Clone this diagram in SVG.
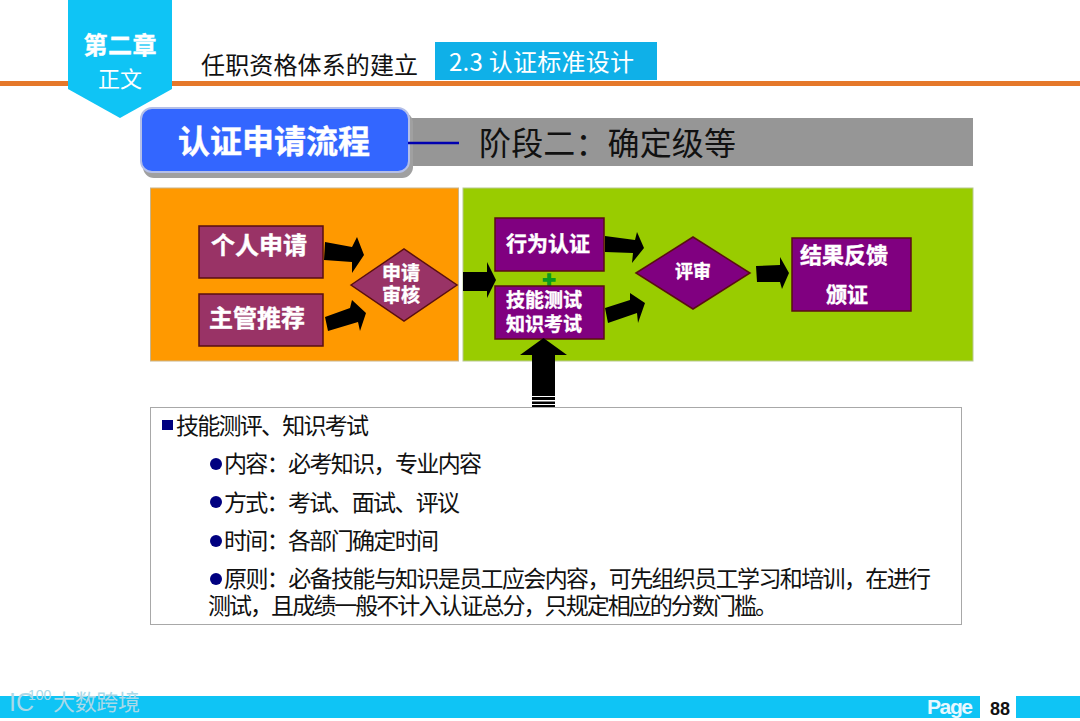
<svg xmlns="http://www.w3.org/2000/svg" width="1080" height="721" viewBox="0 0 1080 721">
<defs><style>
text{font-family:"Noto Sans CJK SC","Liberation Sans",sans-serif}
.w{fill:#fff;font-weight:700;text-anchor:middle;stroke:#fff;stroke-width:.4}
.b{fill:#111;font-size:23px}
.box{stroke:#5a0f10;stroke-width:1.5}
.m{fill:#993366}.p{fill:#800080}
.wm{fill:#a9d9e8}
</style></defs>
<rect width="1080" height="721" fill="#fff"/>
<g id="header">
<rect x="0" y="81" width="1080" height="5" fill="#e5782a"/>
<path d="M68 0H172V89L120 118L68 89Z" fill="#0fc4f5"/>
<text class="w" x="120" y="54" font-size="24" textLength="73">第二章</text>
<text x="120" y="87" font-size="22" fill="#fff" text-anchor="middle">正文</text>
<text x="201" y="74" font-size="24" fill="#111" textLength="217">任职资格体系的建立</text>
<rect x="435" y="42" width="222" height="38" fill="#0fb0e8"/>
<text x="449" y="71" font-size="24" fill="#fff" textLength="185">2.3 认证标准设计</text>
</g>
<g id="title">
<rect x="410" y="118" width="563" height="48" fill="#969696"/>
<rect x="143" y="112" width="270" height="66" rx="11" fill="#a0a0a0"/>
<rect x="141" y="108" width="268" height="64" rx="11" fill="#3366ff" stroke="#b4bfe8" stroke-width="2"/>
<text class="w" x="274" y="153" font-size="32">认证申请流程</text>
<line x1="408" y1="143" x2="459" y2="143" stroke="#0000b0" stroke-width="2.500"/>
<text x="479" y="155" font-size="32" fill="#111" textLength="257">阶段二：确定级等</text>
</g>
<g id="panels">
<rect x="150.500" y="188" width="308" height="173" fill="#ff9900" stroke="#c8b48c"/>
<rect x="463" y="188" width="510" height="173" fill="#99cc00" stroke="#b8c890"/>
</g>
<g id="node-apply"><rect class="box m" x="199" y="226" width="124" height="52"/><text class="w" x="259" y="254" font-size="24">个人申请</text></g>
<g id="node-recommend"><rect class="box m" x="199" y="294" width="124" height="52"/><text class="w" x="257" y="327" font-size="24">主管推荐</text></g>
<g id="node-review"><path class="box m" d="M351 285L404 249L457 285L404 321Z"/><text class="w" x="401" y="280" font-size="19">申请</text><text class="w" x="401" y="302" font-size="19">审核</text></g>
<g id="node-behavior"><rect class="box p" x="495" y="218" width="109" height="53"/><text class="w" x="548" y="251" font-size="21">行为认证</text></g>
<text x="549" y="288" font-size="22" font-weight="700" fill="#0a9a1e" stroke="#0a9a1e" stroke-width="1.500" text-anchor="middle">+</text>
<g id="node-skill"><rect class="box p" x="495" y="286" width="109" height="53"/><text class="w" x="544" y="307" font-size="19">技能测试</text><text class="w" x="544" y="331" font-size="19">知识考试</text></g>
<g id="node-assess"><path class="box p" d="M636 273L693 237L750 273L693 309Z"/><text class="w" x="693" y="278" font-size="18">评审</text></g>
<g id="node-result"><rect class="box p" x="792" y="238" width="119" height="73"/><text class="w" x="844" y="263" font-size="22">结果反馈</text><text class="w" x="847" y="302" font-size="21">颁证</text></g>
<g id="connectors" fill="#000">
<path d="M325 242L352 247L357 237L364 255L352 273L352 262L324 260Z"/>
<path d="M325 317L350 308L352 300L366 313L360 331L358 322L328 331Z"/>
<path d="M463 272H487V262L496 280L487 298V291H463Z"/>
<path d="M605 236L635 240L637 232L644 248L632 263L633 253L605 252Z"/>
<path d="M605 308L630 300L630 293L645 303L638 323L637 313L608 323Z"/>
<path d="M756 266L780 265V257L789 273L782 289L780 282L757 282Z"/>
<path d="M543.500 338L567 355H555V396H532V355H520Z"/>
<rect x="532" y="397" width="23" height="3"/><rect x="532" y="401.500" width="23" height="2.500"/><rect x="532" y="405" width="23" height="2"/>
</g>
<g id="details">
<rect x="150.500" y="407.500" width="811" height="217" fill="#fff" stroke="#a8a8a8"/>
<rect x="162" y="420" width="11" height="10" fill="#000080"/>
<text class="b" x="176" y="434" textLength="193">技能测评、知识考试</text>
<circle cx="216" cy="464" r="6" fill="#000080"/><text class="b" x="224" y="472" textLength="258">内容：必考知识，专业内容</text>
<circle cx="216" cy="502" r="6" fill="#000080"/><text class="b" x="224" y="511" textLength="236">方式：考试、面试、评议</text>
<circle cx="216" cy="541" r="6" fill="#000080"/><text class="b" x="224" y="549" textLength="215">时间：各部门确定时间</text>
<circle cx="216" cy="579" r="6" fill="#000080"/><text class="b" x="224" y="587" textLength="707">原则：必备技能与知识是员工应会内容，可先组织员工学习和培训，在进行</text>
<text class="b" x="208" y="614" textLength="570">测试，且成绩一般不计入认证总分，只规定相应的分数门槛。</text>
</g>
<g id="footer">
<rect x="0" y="696" width="980" height="22" fill="#0fc4f5"/>
<rect x="1016" y="696" width="64" height="22" fill="#0fc4f5"/>
<text x="927" y="714" font-size="21" font-weight="700" fill="#e8f8ff" textLength="46" style="font-family:'Liberation Sans',sans-serif">Page</text>
<text x="990" y="715" font-size="18" font-weight="700" fill="#111" style="font-family:'Liberation Sans',sans-serif">88</text>
<text class="wm" x="9" y="711" font-size="25" style="font-family:'Liberation Sans',sans-serif">IC</text>
<text class="wm" x="28" y="700" font-size="14" style="font-family:'Liberation Sans',sans-serif">100</text>
<text class="wm" x="53" y="710" font-size="22" textLength="87">大数跨境</text>
</g>
</svg>
